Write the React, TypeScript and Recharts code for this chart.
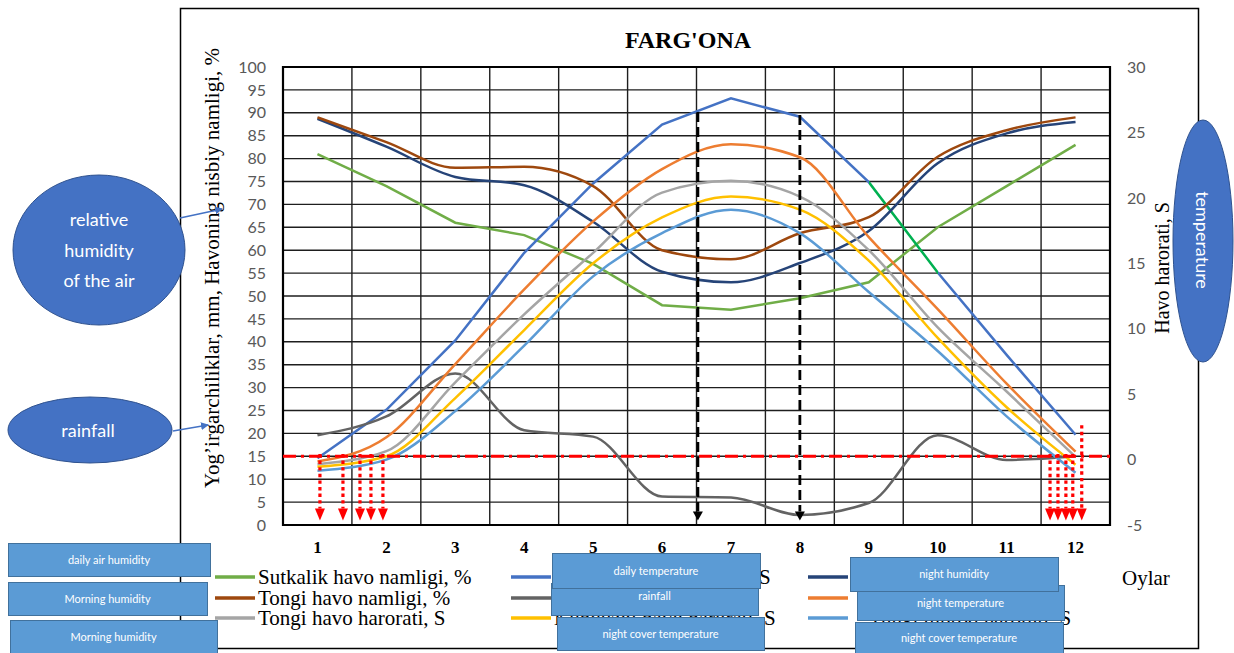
import React from 'react';
import { LineChart, Line, XAxis, YAxis, CartesianGrid, ReferenceLine, ReferenceArea } from 'recharts';

// months on the x axis and band edges for the vertical grid
const months = [1, 2, 3, 4, 5, 6, 7, 8, 9, 10, 11, 12];
const bandEdges = [0.5, 1.5, 2.5, 3.5, 4.5, 5.5, 6.5, 7.5, 8.5, 9.5, 10.5, 11.5, 12.5];
const leftTicks = [0, 5, 10, 15, 20, 25, 30, 35, 40, 45, 50, 55, 60, 65, 70, 75, 80, 85, 90, 95, 100];
const rightTicks = [-5, 0, 5, 10, 15, 20, 25, 30];

// humidity (%) and rainfall (mm) - left axis
const dailyHumidity = [81, 74, 66, 63.3, 57, 48, 47, 49.5, 53, 65, 74, 83];
const nightHumidity = [88.7, 82.6, 76, 74.2, 66.2, 55.3, 53, 57.2, 64.2, 79, 85.5, 88];
const morningHumidity = [89, 83.6, 78, 78.2, 74, 60, 58, 63.7, 67.2, 80.4, 86.2, 89];
const rainfall = [19.6, 23.7, 33.1, 20.7, 19.3, 6.2, 6, 2.2, 4.8, 19.6, 14.2, 15];

// temperatures (S) - right axis
const dailyTemp = [0.1, 3.8, 9.1, 15.8, 21.1, 25.6, 27.6, 26.2, 21.2, 14.3, 8.0, 1.9];
const nightTemp = [-0.15, 1.7, 7.3, 13.0, 18.2, 22.2, 24.1, 23.1, 17.0, 11.5, 5.8, 0.6];
const morningTemp = [-0.35, 0.65, 5.9, 11.1, 15.8, 20.4, 21.3, 20.1, 16.0, 10.1, 5.2, 0.2];
const eveningTemp = [-0.55, 0.25, 4.7, 9.9, 15.0, 18.5, 20.1, 19.1, 15.2, 9.3, 4.0, -0.4];
const coverTemp = [-0.85, 0.0, 3.7, 8.7, 14.0, 17.3, 19.1, 17.3, 12.8, 8.3, 3.3, -1.0];

// annotation arrows (month position, top value, bottom value on left axis)
const redArrowX = [1.036, 1.37, 1.617, 1.776, 1.95, 11.63, 11.745, 11.86, 11.96, 12.09];
const redArrowTop = [15.5, 15.5, 15.5, 15.5, 15.5, 15.5, 15.5, 15.5, 15.5, 21.8];
const blackArrowX = [6.52, 8.0];
const blackArrowTop = [90.2, 89.5];
const arrowBottom = 1;
const thresholdLine = 15;

const series = [
  { key: 'dailyHumidity', name: 'Sutkalik havo namligi, %', color: '#70AD47', axis: 'hum', curve: 'linear', values: dailyHumidity },
  { key: 'dailyTemp', name: 'Sutkalik havo harorati, S', color: '#4472C4', axis: 'temp', curve: 'linear', values: dailyTemp },
  { key: 'nightHumidity', name: 'Tungi havo namligi, %', color: '#264478', axis: 'hum', curve: 'monotone', values: nightHumidity },
  { key: 'morningHumidity', name: 'Tongi havo namligi, %', color: '#9E480E', axis: 'hum', curve: 'monotone', values: morningHumidity },
  { key: 'rainfall', name: 'Yog\u2019ingarchiliklar, mm', color: '#636363', axis: 'hum', curve: 'monotone', values: rainfall },
  { key: 'nightTemp', name: 'Tungi havo harorati, S', color: '#ED7D31', axis: 'temp', curve: 'monotone', values: nightTemp },
  { key: 'morningTemp', name: 'Tongi havo harorati, S', color: '#A5A5A5', axis: 'temp', curve: 'monotone', values: morningTemp },
  { key: 'eveningTemp', name: 'Kunduzgi havo harorati, S', color: '#FFC000', axis: 'temp', curve: 'monotone', values: eveningTemp },
  { key: 'coverTemp', name: 'Tungi tuproq harorati, S', color: '#5B9BD5', axis: 'temp', curve: 'monotone', values: coverTemp },
];

// the Excel chart coloured one segment (month 9 -> 10) of the daily temperature green
const greenFrom = (9 - 1) / (months.length - 1);
const greenTo = (10 - 1) / (months.length - 1);

const rows = months.map((m, i) => {
  const row: any = { month: m };
  series.forEach(s => { row[s.key] = s.values[i]; });
  return row;
});

const callouts = [
  { label: 'daily air humidity', x: 8, y: 543, w: 202, h: 33 },
  { label: 'Morning humidity', x: 8, y: 582, w: 199, h: 33 },
  { label: 'Morning humidity', x: 10, y: 620, w: 207, h: 33 },
  { label: 'rainfall', x: 551, y: 583, w: 207, h: 32, ty: 596 },
  { label: 'daily temperature', x: 552, y: 553, w: 208, h: 35 },
  { label: 'night cover temperature', x: 557, y: 617, w: 207, h: 33 },
  { label: 'night temperature', x: 857, y: 585, w: 207, h: 35 },
  { label: 'night humidity', x: 850, y: 557, w: 208, h: 34 },
  { label: 'night cover temperature', x: 855, y: 622, w: 208, h: 31 },
];

const serif = '"Liberation Serif", "Times New Roman", serif';
const sans = 'Lato, "Open Sans", sans-serif';

const arrowShape = (color: string, dash: string, width: number, headW: number, headH: number) => (p: any) => {
  const { x1, y1, x2, y2 } = p;
  return (
    <g>
      <line x1={x1} y1={y1} x2={x2} y2={y2 - headH} stroke={color} strokeWidth={width} strokeDasharray={dash} />
      <polygon points={`${x2 - headW / 2},${y2 - headH} ${x2 + headW / 2},${y2 - headH} ${x2},${y2}`} fill={color} />
    </g>
  );
};

// a few legend texts sit a little further right in the original
const legendShift: Record<string, number> = { dailyTemp: 8, nightTemp: 10, coverTemp: 18 };

function ChartLegend() {
  const colX = [215, 511, 808];
  const rowY = [577, 598, 618];
  return (
    <g>
      {series.map((s, i) => {
        const cx = colX[i % 3];
        const cy = rowY[Math.floor(i / 3)];
        return (
          <g key={s.key}>
            <line x1={cx} y1={cy} x2={cx + 40} y2={cy} stroke={s.color} strokeWidth={3.5} />
            <text x={cx + 43 + (legendShift[s.key] || 0)} y={cy + 7} fontFamily={serif} fontSize={21} fill="#000">{s.name}</text>
          </g>
        );
      })}
      <text x={1122} y={585} fontFamily={serif} fontSize={21} fill="#000">Oylar</text>
    </g>
  );
}

export default function App() {
  return (
    <div style={{ position: 'absolute', left: 0, top: 0, width: 1234, height: 653, background: '#fff' }}>
      <LineChart width={1234} height={653} data={rows} margin={{ top: 67, right: 0, bottom: 98, left: 0 }}>
        <CartesianGrid stroke="#1e1e1e" strokeWidth={1.4} verticalValues={bandEdges} />
        <XAxis
          dataKey="month"
          type="number"
          domain={[0.5, 12.5]}
          ticks={months}
          interval={0}
          height={30}
          axisLine={false}
          tickLine={false}
          tickSize={0}
          tickMargin={16}
          tick={{ fill: '#000', fontSize: 17, fontWeight: 'bold', fontFamily: serif }}
        />
        <YAxis
          domain={[0, 100]}
          ticks={leftTicks}
          interval={0}
          width={283}
          axisLine={false}
          tickLine={false}
          tickSize={0}
          tickMargin={17}
          tick={{ fill: '#595959', fontSize: 16, fontFamily: sans }}
        />
        <YAxis
          yAxisId="temp"
          orientation="right"
          domain={[-5, 30]}
          ticks={rightTicks}
          interval={0}
          width={124}
          axisLine={false}
          tickLine={false}
          tickSize={0}
          tickMargin={17}
          tick={{ fill: '#595959', fontSize: 16, fontFamily: sans }}
        />
        <ReferenceArea x1={0.5} x2={12.5} y1={0} y2={100} fill="none" stroke="#000" strokeWidth={2.2} ifOverflow="visible" />
        {series.map(s => (
          <Line
            key={s.key}
            dataKey={s.key}
            name={s.name}
            yAxisId={s.axis === 'temp' ? 'temp' : 0}
            type={s.curve as any}
            stroke={s.key === 'dailyTemp' ? 'url(#dailyTempStroke)' : s.color}
            strokeWidth={2.5}
            dot={false}
            activeDot={false}
            isAnimationActive={false}
          />
        ))}
        <ReferenceLine y={thresholdLine} stroke="#FF0000" strokeWidth={3} strokeDasharray="13 5 3 5" />
        {redArrowX.map((x, i) => (
          <ReferenceLine
            key={'r' + i}
            segment={[{ x, y: redArrowTop[i] }, { x, y: arrowBottom }]}
            ifOverflow="visible"
            shape={arrowShape('#FF0000', '3.4 3.2', 3.2, 10, 12)}
          />
        ))}
        {blackArrowX.map((x, i) => (
          <ReferenceLine
            key={'b' + i}
            segment={[{ x, y: blackArrowTop[i] }, { x, y: arrowBottom }]}
            ifOverflow="visible"
            shape={arrowShape('#000', '10 5', 2.8, 10, 9)}
          />
        ))}
      </LineChart>

      <svg width={1234} height={653} style={{ position: 'absolute', left: 0, top: 0, pointerEvents: 'none' }}>
        <defs>
          <linearGradient id="dailyTempStroke" x1="0" y1="0" x2="1" y2="0">
            <stop offset={0} stopColor="#4472C4" />
            <stop offset={greenFrom} stopColor="#4472C4" />
            <stop offset={greenFrom} stopColor="#00B050" />
            <stop offset={greenTo} stopColor="#00B050" />
            <stop offset={greenTo} stopColor="#4472C4" />
            <stop offset={1} stopColor="#4472C4" />
          </linearGradient>
          <marker id="blueHead" markerWidth="8" markerHeight="8" refX="7" refY="4" orient="auto" markerUnits="userSpaceOnUse">
            <path d="M0,0 L8,4 L0,8 Z" fill="#4472C4" />
          </marker>
        </defs>

        <rect x={180.5} y={8.5} width={1018} height={640} fill="none" stroke="#000" strokeWidth={1.5} />

        <text x={688} y={48} textAnchor="middle" fontFamily={serif} fontWeight="bold" fontSize={24} fill="#000">FARG'ONA</text>
        <text transform="translate(219,268) rotate(-90)" textAnchor="middle" fontFamily={serif} fontSize={21} fill="#000">
          Yog’irgarchiliklar, mm,  Havoning nisbiy namligi, %
        </text>

        <ChartLegend />

        {callouts.map((c, i) => (
          <g key={i}>
            <rect x={c.x + 0.5} y={c.y + 0.5} width={c.w} height={c.h} fill="#5B9BD5" stroke="#41719C" strokeWidth={1} />
            <text x={c.x + c.w / 2} y={(c.ty ?? c.y + c.h / 2) + 4} textAnchor="middle" fontFamily={sans} fontSize={11} fill="#fff">{c.label}</text>
          </g>
        ))}

        <ellipse cx={99} cy={250} rx={86} ry={75} fill="#4472C4" stroke="#2F528F" strokeWidth={1} />
        <text x={99} y={226} textAnchor="middle" fontFamily={sans} fontSize={18} fill="#fff">relative</text>
        <text x={99} y={257} textAnchor="middle" fontFamily={sans} fontSize={18} fill="#fff">humidity</text>
        <text x={99} y={287} textAnchor="middle" fontFamily={sans} fontSize={18} fill="#fff">of the air</text>
        <line x1={180} y1={218} x2={222} y2={209} stroke="#4472C4" strokeWidth={1.5} markerEnd="url(#blueHead)" />

        <ellipse cx={90} cy={430} rx={82} ry={33} fill="#4472C4" stroke="#2F528F" strokeWidth={1} />
        <text x={88} y={437} textAnchor="middle" fontFamily={sans} fontSize={18} fill="#fff">rainfall</text>
        <line x1={173} y1={431} x2={208} y2={425} stroke="#4472C4" strokeWidth={1.5} markerEnd="url(#blueHead)" />

        <ellipse cx={1203} cy={241} rx={30} ry={121} fill="#4472C4" stroke="#2F528F" strokeWidth={1} />
        <text transform="translate(1203,240) rotate(90)" textAnchor="middle" dominantBaseline="central" fontFamily={sans} fontSize={18} fill="#fff">
          temperature
        </text>
        <text transform="translate(1169,268) rotate(-90)" textAnchor="middle" fontFamily={serif} fontSize={20} fill="#000">
          Havo harorati, S
        </text>
      </svg>
    </div>
  );
}
